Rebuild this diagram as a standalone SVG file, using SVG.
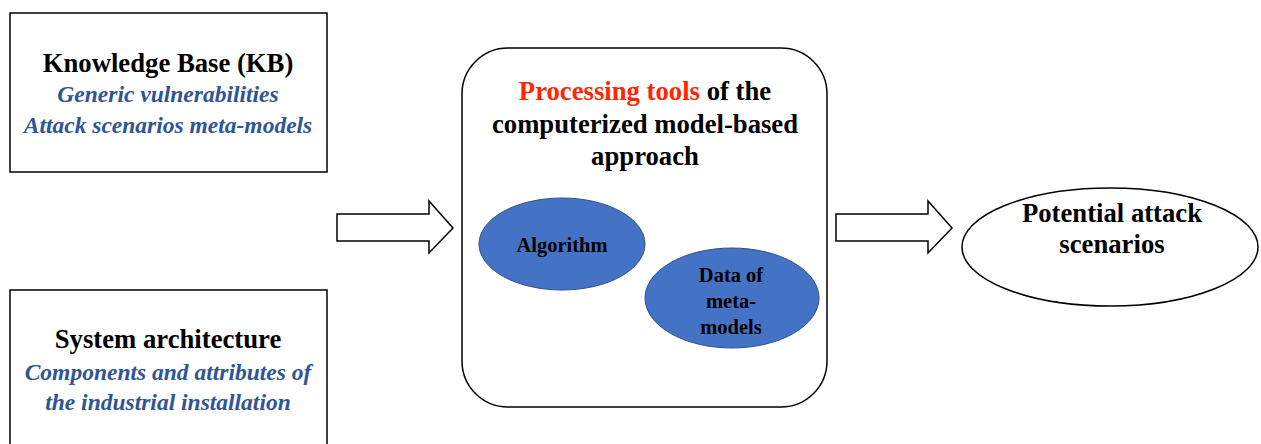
<svg xmlns="http://www.w3.org/2000/svg" width="1261" height="444" viewBox="0 0 1261 444">
<style>
.box{fill:#fff;stroke:#000;stroke-width:1.5}
.arrow{fill:#fff;stroke:#000;stroke-width:1.5;stroke-linejoin:miter}
.blob{fill:#4472C4;stroke:#2F528F;stroke-width:1}
text{font-family:"Liberation Serif","Times New Roman",serif;text-anchor:middle;font-weight:bold}
.t{font-size:26.7px;fill:#000}
.s{font-size:23.5px;font-style:italic;fill:#2F5597}
.e{font-size:20.5px;fill:#000}
.red{fill:#FF2600}
</style>
<rect width="1261" height="444" fill="#fff"/>
<g id="connectors">
<polygon class="arrow" points="337,214 429,214 429,201 453,228 429,253 429,241 337,241"/>
<polygon class="arrow" points="836,214 928,214 928,201 952,228 928,253 928,241 836,241"/>
</g>
<g id="kb">
<rect class="box" x="10" y="13" width="317" height="159"/>
<text class="t" x="168" y="72">Knowledge Base (KB)</text>
<text class="s" x="168" y="102">Generic vulnerabilities</text>
<text class="s" x="168" y="133">Attack scenarios meta-models</text>
</g>
<g id="sysarch">
<rect class="box" x="10" y="290" width="317" height="170"/>
<text class="t" x="168" y="348">System architecture</text>
<text class="s" x="168" y="380">Components and attributes of</text>
<text class="s" x="168" y="410">the industrial installation</text>
</g>
<g id="tools">
<rect class="box" x="462" y="48" width="365" height="359" rx="46" ry="46"/>
<text class="t" x="645" y="100"><tspan class="red">Processing tools</tspan> of the</text>
<text class="t" x="645" y="133">computerized model-based</text>
<text class="t" x="645" y="165">approach</text>
</g>
<g id="algorithm">
<ellipse class="blob" cx="562" cy="244" rx="83" ry="46"/>
<text class="e" x="562" y="252">Algorithm</text>
</g>
<g id="data">
<ellipse class="blob" cx="732" cy="298" rx="87" ry="50"/>
<text class="e" x="731" y="282">Data of</text>
<text class="e" x="731" y="308">meta-</text>
<text class="e" x="731" y="334">models</text>
</g>
<g id="scenarios">
<ellipse class="box" cx="1110" cy="247" rx="148" ry="59"/>
<text class="t" x="1112" y="222">Potential attack</text>
<text class="t" x="1112" y="253">scenarios</text>
</g>
</svg>
